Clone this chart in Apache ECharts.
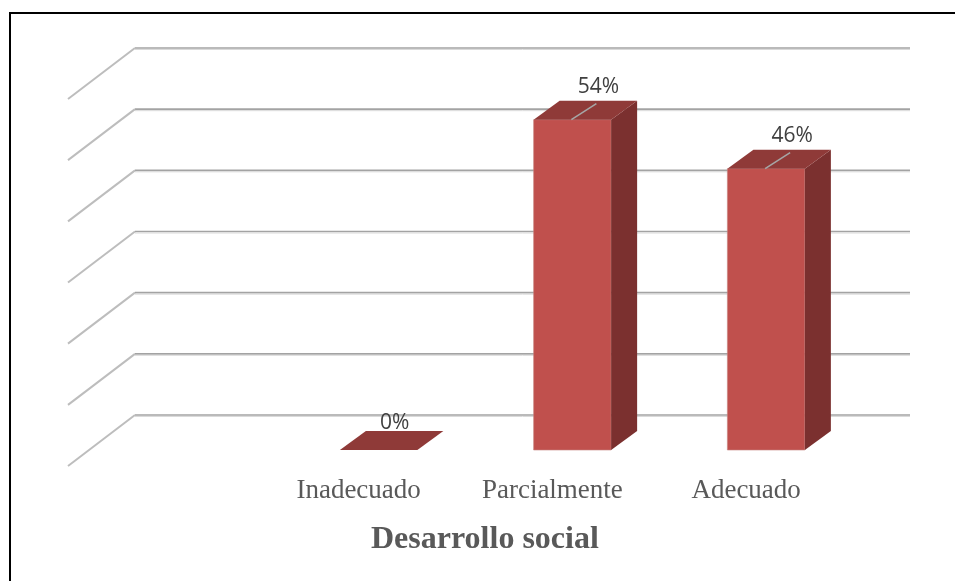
<!DOCTYPE html>
<html>
<head>
<meta charset="utf-8">
<script src="https://cdn.jsdelivr.net/npm/echarts@6/dist/echarts.min.js"></script>
<style>
html,body{margin:0;padding:0;background:#fff;}
#frame{position:absolute;left:9px;top:12px;width:960px;height:600px;border-top:2px solid #000;border-left:2px solid #000;}
#chart{position:absolute;left:0;top:0;width:955px;height:581px;}
</style>
</head>
<body>
<div id="frame"></div>
<div id="chart"></div>
<script>
// Data
const categories = ['', 'Inadecuado', 'Parcialmente', 'Adecuado'];
const percentValues = [null, 0, 54, 46];
const gridTicks = [0, 10, 20, 30, 40, 50, 60];
const chartTitle = 'Desarrollo social';

const chart = echarts.init(document.getElementById('chart'), null, {renderer: 'canvas'});

// oblique 3D offsets (pixels)
const WALL_DX = 47, WALL_DY = -35;   // from bar-front plane to back wall
const FRONT_DX = -20, FRONT_DY = 16; // from bar-front plane to front edge of floor
const BAR_DX = 26, BAR_DY = -19;     // bar depth

function renderWall(params, api) {
  const cs = params.coordSys;
  const y = api.coord([0, api.value(1)])[1];
  const x0 = cs.x, x1 = cs.x + cs.width;
  const by = y + WALL_DY;
  return {
    type: 'group',
    children: [
      {type: 'line', shape: {x1: x0 + WALL_DX, y1: by, x2: x1 + WALL_DX, y2: by},
        style: {stroke: '#a3a3a3', lineWidth: 1.6}},
      {type: 'line', shape: {x1: x0 + WALL_DX, y1: by + 1.5, x2: x1 + WALL_DX, y2: by + 1.5},
        style: {stroke: '#dadada', lineWidth: 1}},
      {type: 'line', shape: {x1: x0 + WALL_DX, y1: by, x2: x0 + FRONT_DX, y2: y + FRONT_DY},
        style: {stroke: '#bdbdbd', lineWidth: 2}}
    ]
  };
}

function renderBar(params, api) {
  const v = api.value(1);
  if (v === null || v === undefined || isNaN(v)) return;
  const idx = api.value(0);
  const top = api.coord([idx, v]);
  const base = api.coord([idx, 0]);
  const w = api.size([1, 0])[0] * 0.4;
  const xl = top[0] - w / 2, xr = top[0] + w / 2;
  const yt = top[1], yb = base[1];
  const children = [];
  if (yb - yt > 0.5) {
    children.push({type: 'rect', shape: {x: xl, y: yt, width: w, height: yb - yt},
      style: {fill: '#C0504D', stroke: '#c7837f', lineWidth: 0.6}});
    children.push({type: 'polygon', shape: {points: [[xr, yt], [xr + BAR_DX, yt + BAR_DY], [xr + BAR_DX, yb + BAR_DY], [xr, yb]]},
      style: {fill: '#7B302F'}});
  }
  children.push({type: 'polygon', shape: {points: [[xl, yt], [xl + BAR_DX, yt + BAR_DY], [xr + BAR_DX, yt + BAR_DY], [xr, yt]]},
    style: {fill: '#8F3A38'}});
  let lx, ly;
  if (yb - yt > 0.5) {
    const bx = top[0] + BAR_DX - 2, byy = yt + BAR_DY;
    children.push({type: 'line', shape: {x1: top[0] - 1, y1: yt, x2: bx, y2: byy + 3},
      style: {stroke: '#a6a6a6', lineWidth: 1.6}});
    lx = bx + 2; ly = byy - 14;
  } else {
    lx = top[0] + BAR_DX / 2 + 3; ly = yt + BAR_DY / 2 - 17;
  }
  children.push({type: 'text', x: lx, y: ly, style: {
    text: v + '%', fill: '#404040', font: '21px "Open Sans"', align: 'center', verticalAlign: 'middle'}});
  return {type: 'group', children: children};
}

chart.setOption({
  animation: false,
  backgroundColor: 'transparent',
  title: {
    text: chartTitle,
    left: 366, top: 519,
    textStyle: {fontFamily: '"Liberation Serif"', fontWeight: 'bold', fontSize: 32, color: '#595959'}
  },
  grid: {left: 88, right: 92, top: 83, bottom: 131},
  xAxis: {
    type: 'category',
    data: categories,
    axisLine: {show: false},
    axisTick: {show: false},
    splitLine: {show: false},
    axisLabel: {
      interval: 0, margin: 27,
      padding: [0, 40, 0, 0],
      fontFamily: '"Liberation Serif"', fontSize: 27, color: '#595959'
    }
  },
  yAxis: {
    type: 'value', min: 0, max: 60, interval: 10, show: false,
    splitLine: {show: false}
  },
  series: [
    {
      type: 'custom', name: 'wall', z: 1,
      renderItem: renderWall,
      data: gridTicks.map(t => [0, t]),
      silent: true
    },
    {
      type: 'custom', name: 'Desarrollo social', z: 2,
      renderItem: renderBar,
      data: categories.map((c, i) => [i, percentValues[i]])
    }
  ]
});
</script>
</body>
</html>
